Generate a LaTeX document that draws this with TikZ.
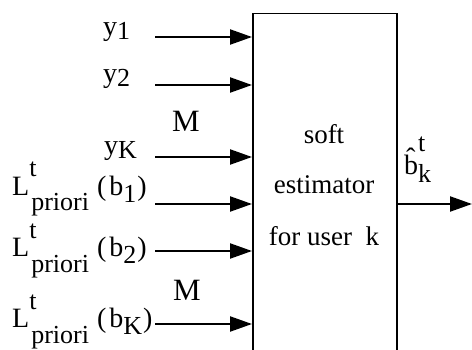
\documentclass[tikz,border=0pt]{standalone}
\usepackage{fontspec}
\setmainfont{Liberation Serif}
\usetikzlibrary{arrows.meta}
\newcommand\smf{\fontsize{26}{27}\selectfont}
\newcommand\sbs[2][-4pt]{\raisebox{#1}{\smf #2}}
\newcommand\Lpri[1]{L\rlap{\raisebox{18pt}{\smf t}}\raisebox{-16pt}{\smf\hspace{2pt}priori}\hspace{8pt}(\hspace{3pt}b\raisebox{-7pt}{\smf #1}\hspace{1pt})}
\begin{document}
\begin{tikzpicture}[x=1pt,y=1pt,
  lbl/.style={inner sep=0pt, anchor=base west, font=\fontsize{28}{29}\selectfont},
  ctr/.style={inner sep=0pt, anchor=base, font=\fontsize{27}{28}\selectfont},
  dots/.style={inner sep=0pt, anchor=base west, font=\fontsize{31}{32}\selectfont},
  arr/.style={line width=2.2pt, -{Triangle[length=22pt,width=15pt]}},
  blk/.style={draw, line width=1.5pt, inner sep=0pt, anchor=north west,
              minimum width=144pt, minimum height=345pt}]
\useasboundingbox (0,0) rectangle (472,349);
\node[blk] (box) at (252,336) {};
% box text
\node[ctr] (t1) at (324,206) {soft};
\node[ctr] (t2) at (324,156) {estimator};
\node[ctr] (t3) at (324,104) {for user\ \ k};
% input labels
\node[lbl] (y1) at (103,313) {y\sbs{1}};
\node[lbl] (y2) at (103,266) {y\sbs{2}};
\node[dots] (m1) at (172,218) {M};
\node[lbl] (yK) at (104,194) {y\sbs{K}};
\node[lbl] (L1) at (12,154) {\Lpri{1}};
\node[lbl] (L2) at (12,93) {\Lpri{2}};
\node[dots] (m2) at (173,49) {M};
\node[lbl] (L3) at (12,22) {\Lpri{K}};
% output label
\node[lbl] (bh) at (404,175) {\^{b}\rlap{\raisebox{23pt}{\smf t}}\raisebox{-8pt}{\smf k}};
% arrow starts
\coordinate (s1) at (155,312);
\coordinate (s2) at (155,264);
\coordinate (s3) at (155,192);
\coordinate (s4) at (155,145);
\coordinate (s5) at (155,98);
\coordinate (s6) at (155,25);
\coordinate (o) at (472,145);
\foreach \s in {s1,s2,s3,s4,s5,s6}
  \draw[arr] (\s) -- (\s -| box.west);
\draw[arr] (o -| box.east) -- (o);
\end{tikzpicture}
\end{document}
